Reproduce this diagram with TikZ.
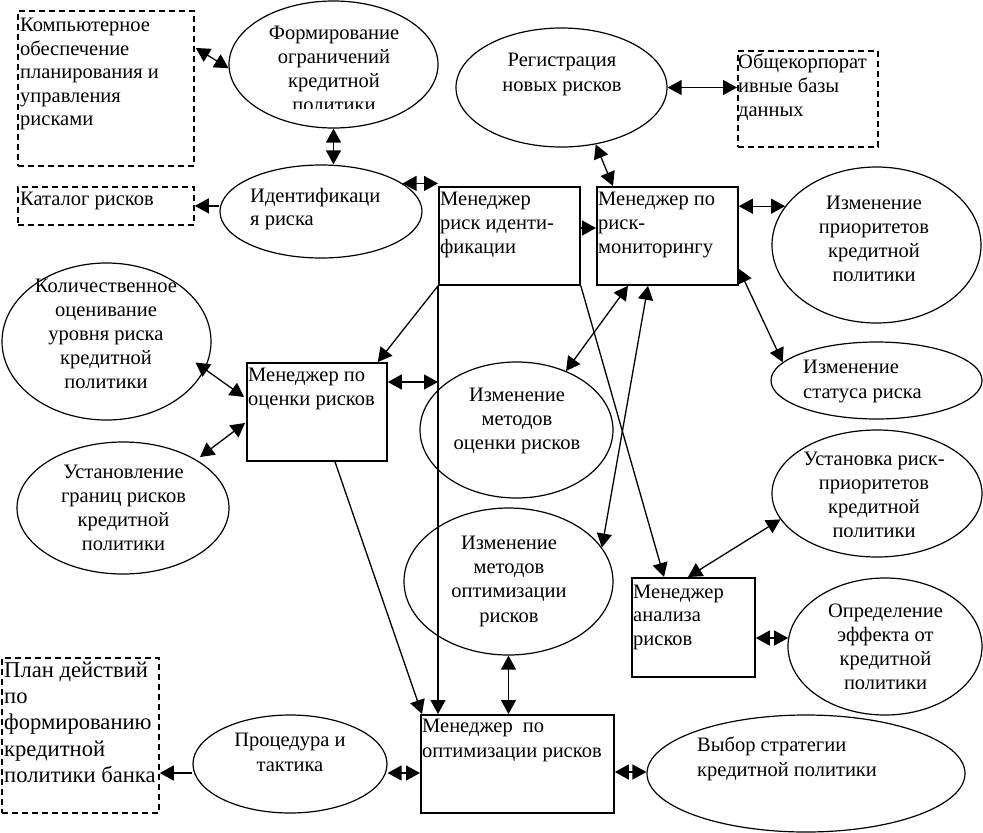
\documentclass[tikz,border=0pt]{standalone}
\usepackage{fontspec}
\setmainfont{Liberation Serif}
\usetikzlibrary{shapes.geometric, arrows.meta, calc}
\begin{document}
\begin{tikzpicture}[x=1pt, y=-1pt,
  ell/.style={ellipse, draw, line width=1.2pt, inner sep=0pt},
  mbox/.style={rectangle, draw, line width=1.8pt, inner sep=0pt, anchor=north west},
  dbox/.style={rectangle, draw, line width=1.8pt, dash pattern=on 6pt off 4pt, inner sep=0pt, anchor=north west},
  txt/.style={inner sep=0pt, font=\fontsize{20.5}{#1}\selectfont},
  txt/.default=24,
  ltxt/.style={txt=#1, anchor=north west, align=left},
  ltxt/.default=24,
  ctxt/.style={txt=#1, anchor=north, align=center},
  ctxt/.default=24,
  Tri/.tip={Triangle[length=14pt, width=15pt]},
  dbl/.style={line width=1.3pt, Tri-Tri},
  sarr/.style={line width=1.3pt, -Tri},
]
\useasboundingbox (0,0) rectangle (983,833);

% dashed boxes
\node[dbox, minimum width=176pt, minimum height=155pt] (comp) at (17,10) {};
\node[dbox, minimum width=176pt, minimum height=38pt] (katalog) at (17,186) {};
\node[dbox, minimum width=140pt, minimum height=96pt] (obsh) at (737,50) {};
\node[dbox, minimum width=157pt, minimum height=155pt] (plan) at (1,657) {};

% manager boxes
\node[mbox, minimum width=141pt, minimum height=98pt] (mri) at (438,186) {};
\node[mbox, minimum width=141pt, minimum height=98pt] (mrm) at (596,186) {};
\node[mbox, minimum width=140pt, minimum height=98pt] (mor) at (246,362) {};
\node[mbox, minimum width=123pt, minimum height=99pt] (analiz) at (631,577) {};
\node[mbox, minimum width=193pt, minimum height=98pt] (mopt) at (420,714) {};

% ellipses
\node[ell, minimum width=209pt, minimum height=127pt] (form) at (333.5,64.5) {};
\node[ell, minimum width=211pt, minimum height=119pt] (reg) at (561.5,87.5) {};
\node[ell, minimum width=202pt, minimum height=93pt] (ident) at (321,211.5) {};
\node[ell, minimum width=209pt, minimum height=156pt] (prior) at (876.5,245) {};
\node[ell, minimum width=209pt, minimum height=157pt] (kolich) at (106.5,341.5) {};
\node[ell, minimum width=212pt, minimum height=132pt] (ustgr) at (123,508) {};
\node[ell, minimum width=193pt, minimum height=136pt] (izmocen) at (516.5,430) {};
\node[ell, minimum width=211pt, minimum height=77pt] (status) at (876.5,380.5) {};
\node[ell, minimum width=210pt, minimum height=127pt] (ustrisk) at (877,493.5) {};
\node[ell, minimum width=209pt, minimum height=147pt] (izmopt) at (508.5,581.5) {};
\node[ell, minimum width=194pt, minimum height=137pt] (opred) at (885,646.5) {};
\node[ell, minimum width=318pt, minimum height=117pt] (vybor) at (806,773.5) {};
\node[ell, minimum width=194pt, minimum height=98pt] (proc) at (290,764) {};

% texts
\node[ltxt=23.5] (comp-t) at (20,15) {\strut Компьютерное\\обеспечение\\планирования и\\управления\\рисками};
\begin{scope}
\clip (200,0) rectangle (460,108);
\node[ctxt] (form-t) at (334,22) {\strut Формирование\\ограничений\\кредитной\\политики};
\end{scope}
\node[ctxt=25] (reg-t) at (562,48.5) {\strut Регистрация\\новых рисков};
\node[ltxt] (obsh-t) at (738,51.2) {\strut Общекорпорат\\ивные базы\\данных};
\node[ltxt=23.5] (ident-t) at (250,185.5) {\strut Идентификаци\\я риска};
\node[ltxt] (katalog-t) at (20,188.2) {\strut Каталог рисков};
\node[ltxt] (mri-t) at (440,188.2) {\strut Менеджер\\риск иденти-\\фикации};
\node[ltxt] (mrm-t) at (598,188.2) {\strut Менеджер по\\риск-\\мониторингу};
\node[ctxt] (prior-t) at (874,192) {\strut Изменение\\приоритетов\\кредитной\\политики};
\node[ctxt] (kolich-t) at (106,275.5) {\strut Количественное\\оценивание\\уровня риска\\кредитной\\политики};
\node[ltxt] (mor-t) at (248,364.2) {\strut Менеджер по\\оценки рисков};
\node[ctxt] (ustgr-t) at (123.5,461.5) {\strut Установление\\границ рисков\\кредитной\\политики};
\node[ctxt] (izmocen-t) at (517,384) {\strut Изменение\\методов\\оценки рисков};
\node[ltxt=25] (status-t) at (803,355.5) {\strut Изменение\\статуса риска};
\begin{scope}
\clip (700,420) rectangle (983,536);
\node[ctxt] (ustrisk-t) at (874,448.5) {\strut Установка риск-\\приоритетов\\кредитной\\политики};
\end{scope}
\node[ctxt=24.3] (izmopt-t) at (509,532) {\strut Изменение\\методов\\оптимизации\\рисков};
\node[ltxt=23.5] (analiz-t) at (633,581.5) {\strut Менеджер\\анализа\\рисков};
\node[ctxt] (opred-t) at (885.5,600.5) {\strut Определение\\эффекта от\\кредитной\\политики};
\node[ltxt=25] (mopt-t) at (422,715) {\strut Менеджер\ \ по\\оптимизации рисков};
\node[ltxt=25] (vybor-t) at (697,734) {\strut Выбор стратегии\\кредитной политики};
\node[ctxt=25] (proc-t) at (290,729) {\strut Процедура и\\тактика};
\node[inner sep=0pt, anchor=north west, align=left, font=\fontsize{22.6}{26.4}\selectfont] (plan-t) at (4,658.5) {\strut План действий\\по\\формированию\\кредитной\\политики банка};

% connectors
\draw[dbl] ($(comp.north east)+(1,38)$) -- (form.182);
\draw[dbl] (form.south) -- (form.south |- ident.north);
\draw[sarr] (ident.west |- katalog.east) -- (katalog.east);
\draw[dbl] (ident.19) -- (ident.19 -| mri.west);
\draw[dbl] (reg.east) -- (reg.east -| obsh.west);
\draw[dbl] (reg.-59) -- ($(mrm.north west)+(17,0)$);
\draw[sarr] ($(mri.north east)+(0,42)$) -- ($(mrm.north west)+(0,42)$);
\draw[dbl] (prior.157 -| mrm.east) -- (prior.157);
\draw[dbl] ($(mrm.south east)+(0,-17)$) -- (status.169);
\draw[dbl] ($(mrm.south west)+(32,0)$) -- (izmocen.50);
\draw[dbl] ($(mrm.south west)+(52,0)$) -- (izmopt.20);
\draw[sarr] (mri.south west) -- ($(mor.north east)+(-10,0)$);
\draw[sarr] (mri.south east) -- ($(analiz.north west)+(33,0)$);
\draw[dbl] (ustrisk.195) -- ($(analiz.north west)+(57,0)$);
\draw[dbl] (opred.175 -| analiz.east) -- (opred.175);
\draw[dbl] ($(kolich.center)+(89,21)$) -- ($(mor.north west)+(-2,35)$);
\draw[dbl] ($(ustgr.center)+(77,-51)$) -- ($(mor.north west)+(-1,61)$);
\coordinate (morr) at ($(mor.north east)+(0,20)$);
\draw[dbl] (morr) -- (morr -| mri.west);
\draw[sarr] (mri.south west) -- (mri.south west |- mopt.north);
\draw[sarr] ($(mor.south west)+(89,0)$) -- ($(mopt.north west)+(2,0)$);
\draw[dbl] (izmopt.south) -- (izmopt.south |- mopt.north);
\coordinate (moptr) at ($(mopt.north east)+(0,58)$);
\draw[dbl] (moptr) -- (moptr -| vybor.west);
\coordinate (moptl) at ($(mopt.north west)+(0,59)$);
\draw[dbl] (moptl -| proc.east) -- (moptl);
\draw[sarr] (moptl -| proc.west) -- (moptl -| plan.east);
\end{tikzpicture}
\end{document}
